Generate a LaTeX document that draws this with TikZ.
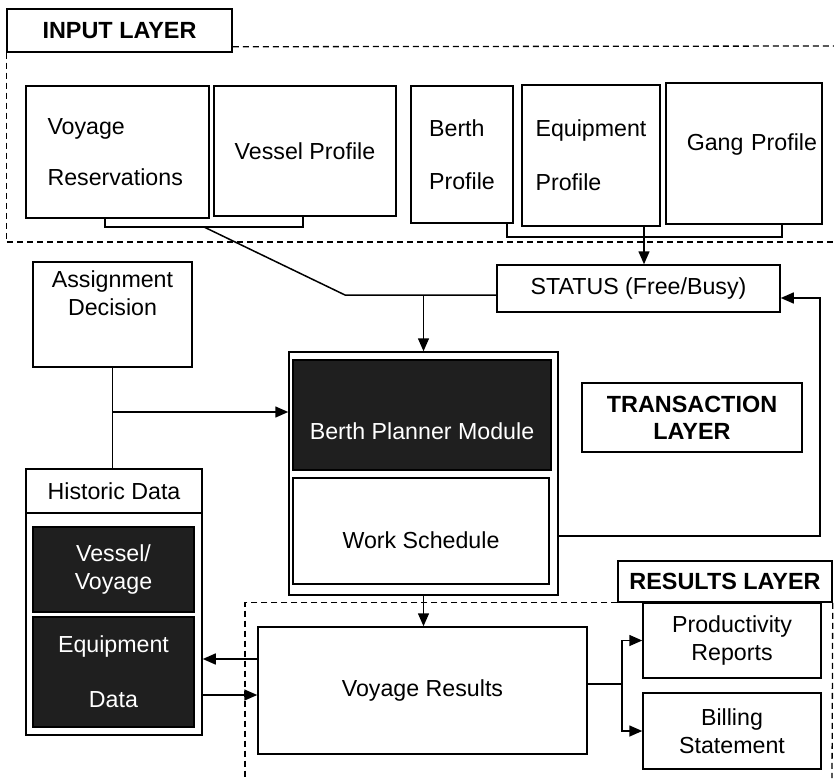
\documentclass[tikz,border=0pt]{standalone}
\usepackage{fontspec}
\setmainfont{Liberation Sans}
\usetikzlibrary{arrows.meta}
\newcommand{\diagfont}{\fontsize{23.2}{28}\selectfont}
\newcommand{\layerfont}{\fontsize{23.4}{27}\selectfont\bfseries}

\begin{document}
\begin{tikzpicture}[
  x=1pt, y=-1pt,
  every node/.style={font=\diagfont},
  box/.style={draw, line width=1.5pt, inner sep=0pt, align=center},
  dark/.style={box, fill=black!88, text=white!85},
  layer/.style={box, font=\layerfont},
  link/.style={line width=1.5pt},
  arrow/.style={-{Triangle[length=13pt, width=11pt]}, line width=1.5pt},
  zone/.style={dash pattern=on 6pt off 4pt, line width=1.3pt}
]
\useasboundingbox (0,0) rectangle (834,778);

  % Input layer
\node[layer, minimum width=225pt, minimum height=43pt] (inlay) at (119.5,30.5) {INPUT LAYER};
\node[box, minimum width=183pt, minimum height=132pt, text width=140pt, align=left] (voyres) at (117.5,152) {Voyage\\[23pt]Reservations};
\node[box, minimum width=182pt, minimum height=130pt] (vessel) at (305,151) {Vessel Profile};
\node[box, minimum width=102pt, minimum height=137pt, align=left] (berth) at (462,154.5) {Berth\\[25pt]Profile};
\node[box, minimum width=138pt, minimum height=141pt, align=left] (equip) at (591,155.5) {Equipment\\[26pt]Profile};
\node[box, minimum width=156pt, minimum height=141pt, text width=146pt, align=right, text depth=22pt] (gang) at (744,153.5) {Gang Profile};

  % Transaction layer
\node[box, minimum width=283pt, minimum height=47pt] (status) at (638.5,288.5) {STATUS (Free/Busy)};
\node[box, minimum width=159pt, minimum height=105pt, text depth=42pt] (assign) at (112.5,314.5) {Assignment\\Decision};
\node[layer, minimum width=220pt, minimum height=69pt] (trlay) at (692,417.5) {TRANSACTION\\LAYER};
\node[box, minimum width=269pt, minimum height=243pt] (planner) at (423.5,473.5) {};
\node[dark, minimum width=258pt, minimum height=110pt, text height=49pt] (bpm) at (422,415) {Berth Planner Module};
\node[box, minimum width=256pt, minimum height=106pt, text height=35pt] (work) at (421,531) {Work Schedule};

  % Historic data
\node[box, minimum width=176pt, minimum height=44pt] (histhead) at (114,491) {Historic Data};
\node[box, minimum width=176pt, minimum height=222pt] (histbody) at (114,624) {};
\node[dark, minimum width=161pt, minimum height=85pt] (vvdata) at (113.5,569.5) {Vessel/\\Voyage};
\node[dark, minimum width=161pt, minimum height=110pt] (eqdata) at (113.5,672) {Equipment\\[27pt]Data};

  % Results layer
\node[layer, minimum width=214pt, minimum height=41pt] (reslay) at (725,581.5) {RESULTS LAYER};
\node[box, minimum width=329pt, minimum height=127pt] (vres) at (422.5,690.5) {Voyage Results};
\node[box, minimum width=178pt, minimum height=75pt] (prod) at (732,640.5) {Productivity\\Reports};
\node[box, minimum width=178pt, minimum height=76pt] (bill) at (732,731) {Billing\\Statement};

  % Layer borders
\draw[zone] (inlay.south west) |- (834,242);
\draw[zone] ([yshift=6pt]inlay.south east) -- (834,46);
\draw[zone] (reslay.south west) -| (245,778);
\draw[zone] (reslay.south east) -- (832,778);

  % Junctions
\coordinate (vjoin) at (204,227);
\coordinate (bend) at (345,295);
\coordinate (ejoin) at (644,237);
\coordinate (fbk) at (820,536);
\coordinate (ajoin) at (112.5,412);
\coordinate (rsplit) at (622,684);

  % Input -> status -> planner
\draw[link] ([xshift=-12.5pt]voyres.south) |- (vjoin) -| ([xshift=-2pt]vessel.south);
\draw[link] (vjoin) -- (bend) -- (bend -| status.west);
\draw[arrow] (bend -| planner.north) -- (planner.north);
\draw[link] ([xshift=45pt]berth.south) |- (ejoin) -| ([xshift=38pt]gang.south);
\draw[arrow] (ejoin |- equip.south) -- (ejoin |- status.north);
\draw[arrow] (planner.east |- fbk) -- (fbk) |- ([yshift=-9.5pt]status.east);

  % Decision and history
\draw[link] (assign.south) -- (assign.south |- histhead.north);
\draw[arrow] (ajoin) -- (ajoin -| planner.west);
\draw[arrow] ([yshift=31.5pt]vres.west) -- ([yshift=-35pt]histbody.east);
\draw[arrow] ([yshift=-71pt]histbody.east) -- ([yshift=-4.5pt]vres.west);

  % Results
\draw[arrow] (planner.south) -- (planner.south |- vres.north);
\draw[link] (rsplit -| vres.east) -- (rsplit);
\draw[arrow] (rsplit) |- (prod.west);
\draw[arrow] (rsplit) |- (bill.west);

\end{tikzpicture}
\end{document}
